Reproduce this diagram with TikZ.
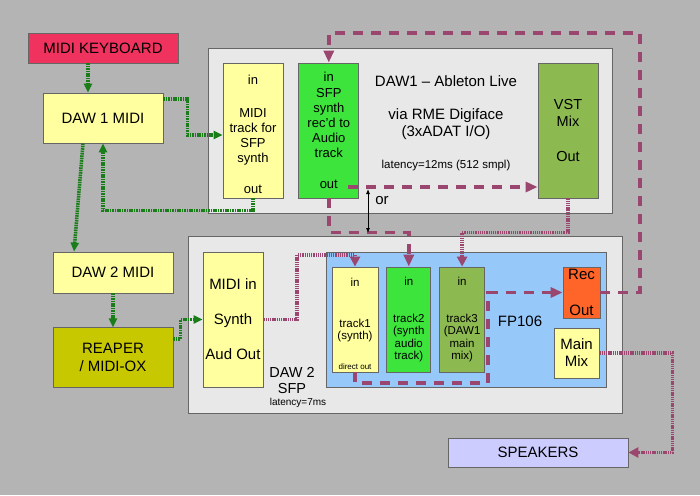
\documentclass[tikz,border=0pt]{standalone}
\usepackage{fontspec}
\setmainfont{Liberation Sans}
\usepackage{xcolor}
\usetikzlibrary{arrows.meta, positioning, calc}

\definecolor{bggray}{RGB}{180,180,180}
\definecolor{hostgray}{RGB}{232,232,232}
\definecolor{kbred}{RGB}{240,50,95}
\definecolor{paleyellow}{RGB}{255,255,160}
\definecolor{brightgreen}{RGB}{60,228,60}
\definecolor{olive}{RGB}{140,185,80}
\definecolor{reaper}{RGB}{200,200,0}
\definecolor{fpblue}{RGB}{150,200,250}
\definecolor{recorange}{RGB}{255,100,40}
\definecolor{lavender}{RGB}{204,204,255}
\definecolor{midigreen}{RGB}{25,125,25}
\definecolor{audiomag}{RGB}{155,70,110}

\begin{document}
\begin{tikzpicture}[
        x=1pt, y=-1pt,
        every node/.style={font=\fontsize{15}{17}\selectfont, inner sep=0pt},
        box/.style={rectangle, draw=black!60, line width=0.8pt, align=center},
        host/.style={box, fill=hostgray},
        chan/.style={box, minimum width=60pt, minimum height=135pt, font=\fontsize{13}{15}\selectfont},
        fpchan/.style={box, minimum height=105pt, font=\fontsize{11.5}{12.5}\selectfont},
        chantext/.style={align=center, font=\fontsize{13}{15}\selectfont},
        fptext/.style={align=center, font=\fontsize{11.5}{12.5}\selectfont},
        midi/.style={midigreen, line width=3.5pt, dash pattern=on 1.6pt off 0.8pt, -{Triangle[length=9pt,width=8pt]}},
        audio/.style={audiomag, line width=3.5pt, dash pattern=on 10pt off 8pt, -{Triangle[length=12pt,width=10pt]}},
        feed/.style={audiomag, line width=3.5pt, dash pattern=on 1.3pt off 0.9pt, -{Triangle[length=10pt,width=10pt]}}
    ]

    \fill[bggray] (0,0) rectangle (700,495);
    \useasboundingbox (0,0) rectangle (700,495);

    % Hosts
    \node (DAW1) [host, minimum width=404pt, minimum height=165pt] at (410,130.5) {};
    \node (DAW2) [host, minimum width=434pt, minimum height=177pt] at (405,324.5) {};
    \node (FP) [box, fill=fpblue, minimum width=280pt, minimum height=135pt] at (466,319.5) {};

    % MIDI chain
    \node (KB) [box, fill=kbred, minimum width=150pt, minimum height=30pt] at (103,48) {MIDI KEYBOARD};
    \node (D1M) [box, fill=paleyellow, minimum width=120pt, minimum height=50pt] at (103,118) {DAW 1 MIDI};
    \node (D2M) [box, fill=paleyellow, minimum width=120pt, minimum height=41pt] at (113,272.5) {DAW 2 MIDI};
    \node (REAP) [box, fill=reaper, minimum width=120pt, minimum height=60pt, below=34pt of D2M] {REAPER\\[1pt]/ MIDI-OX};

    % DAW1 - Ableton Live
    \node (MT) [chan, fill=paleyellow] at (253,130.5) {};
    \node (MT_lbl) [chantext] at ([yshift=-3.75pt]MT.center) {in\\[18pt]MIDI\\track for\\SFP\\synth\\[16pt]out};
    \node (SFP) [chan, fill=brightgreen, right=15pt of MT] {in\\[1pt]SFP\\synth\\rec'd to\\Audio\\track\\[16pt]out};
    \node (VST) [chan, fill=olive, font=\fontsize{14.5}{17}\selectfont] at (568,130.5) {VST\\Mix\\[18pt]Out};
    \node (DAW1_title) at (446,81) {DAW1 -- Ableton Live};
    \node (DAW1_via) [align=center] at (446,124.5) {via RME Digiface\\(3xADAT I/O)};
    \node (DAW1_lat) [font=\fontsize{11.5}{13}\selectfont] at (446,166) {latency=12ms (512 smpl)};

    % DAW2 - SFP and FP106
    \node (SY) [chan, fill=paleyellow, font=\fontsize{15}{17}\selectfont] at (233,319.5) {MIDI in\\[18pt]Synth\\[18pt]Aud Out};
    \node (DAW2_lbl) [align=center, font=\fontsize{14.5}{16}\selectfont] at (292,381) {DAW 2\\SFP};
    \node (DAW2_lat) [font=\fontsize{10}{12}\selectfont] at (298,403) {latency=7ms};
    \node (T1) [fpchan, fill=paleyellow, minimum width=46pt] at (355,319.5) {};
    \node (T1_lbl) [fptext] at (355,310) {in\\[28.5pt]track1\\(synth)};
    \node (T1_dir) [font=\fontsize{8}{9}\selectfont] at (355,367) {direct out};
    \node (T2) [fpchan, fill=brightgreen, minimum width=44pt, right=8pt of T1] {in\\[24.5pt]track2\\(synth\\audio\\track)};
    \node (T3) [fpchan, fill=olive, minimum width=45pt, right=8pt of T2] {in\\[24.5pt]track3\\(DAW1\\main\\mix)};
    \node (FP_lbl) at (520,321) {FP106};
    \node (RO) [box, fill=recorange, minimum width=37pt, minimum height=51pt] at (581.5,292.5) {Rec\\[19pt]Out};
    \node (MM) [box, fill=paleyellow, minimum width=45pt, minimum height=50pt] at (576.5,353) {Main\\Mix};
    \node (SPK) [box, fill=lavender, minimum width=180pt, minimum height=29pt] at (538,452.5) {SPEAKERS};

    % MIDI connections
    \draw[midi] ([xshift=-15pt]KB.south) -- ([xshift=-15pt]D1M.north);
    \draw[midi] ([yshift=19pt]D1M.east) -- ++(24,0) |- ([yshift=-4.5pt]MT.west);
    \draw[midi] (MT.south) -- ++(0,12) -| (D1M.south);
    \draw[midi] ([xshift=-20pt]D1M.south) -- ([xshift=-39pt]D2M.north);
    \draw[midi] (D2M.south) -- (REAP.north);
    \draw[midi] ([yshift=19pt]REAP.east) -- ++(7,0) |- (SY.west);

    % Audio connections
    \coordinate (loopTR) at (640,33);
    \coordinate (fpLoop) at (488,383);
    \coordinate (synTurn) at (297,255);
    \draw[audio] (RO.east) -| (loopTR) -| (SFP.north);
    \draw[audio] ([xshift=-11pt,yshift=-56.5pt]SFP.east) -- ([yshift=-56.5pt]VST.west);
    \draw[audio] (SFP.south) -- ++(0,34) -| (T2.north);
    \draw[audio] (T1.south) |- (fpLoop) |- (RO.west);
    \draw[feed] (VST.south) -- ++(0,34) -| (T3.north);
    \draw[feed] (SY.east) -| (synTurn) -| (T1.north);
    \draw[feed] (MM.east) -- ++(73,0) |- (SPK.east);

    % either / or
    \coordinate (orTop) at (368,189);
    \coordinate (orBot) at (368,233);
    \draw[{Latex[length=5pt,width=4pt]}-{Latex[length=5pt,width=4pt]}, line width=0.8pt] (orTop) -- (orBot);
    \node (orLbl) at (382,201) {or};

\end{tikzpicture}
\end{document}
